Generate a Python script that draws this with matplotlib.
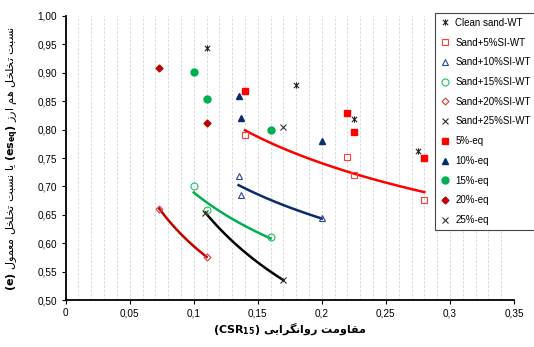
import matplotlib
matplotlib.use("Agg")
import numpy as np
import matplotlib.pyplot as plt
from matplotlib.path import Path
from matplotlib.ticker import MultipleLocator, FuncFormatter

# void ratio vs. liquefaction resistance, WT tests and equivalent values
clean_wt_x = [0.110, 0.180, 0.225, 0.275]
clean_wt_y = [0.943, 0.878, 0.819, 0.763]
si5_wt_x = [0.140, 0.220, 0.225, 0.280]
si5_wt_y = [0.790, 0.752, 0.720, 0.676]
si10_wt_x = [0.135, 0.137, 0.200]
si10_wt_y = [0.718, 0.684, 0.644]
si15_wt_x = [0.100, 0.110, 0.160]
si15_wt_y = [0.701, 0.658, 0.611]
si20_wt_x = [0.073, 0.110]
si20_wt_y = [0.661, 0.576]
si25_wt_x = [0.109, 0.170]
si25_wt_y = [0.654, 0.535]

eq5_x = [0.140, 0.220, 0.225, 0.280]
eq5_y = [0.868, 0.829, 0.796, 0.750]
eq10_x = [0.135, 0.137, 0.200]
eq10_y = [0.859, 0.821, 0.780]
eq15_x = [0.100, 0.110, 0.160]
eq15_y = [0.901, 0.853, 0.799]
eq20_x = [0.073, 0.110]
eq20_y = [0.908, 0.811]
eq25_x = [0.170]
eq25_y = [0.805]

x_ticks = [0, 0.05, 0.1, 0.15, 0.2, 0.25, 0.3, 0.35]
y_ticks = [0.50, 0.55, 0.60, 0.65, 0.70, 0.75, 0.80, 0.85, 0.90, 0.95, 1.00]

# contextual forms (isolated, final, initial, medial) for the persian letters used
FORMS = {
    "ا": ("\uFE8D", "\uFE8E", None, None),
    "ب": ("\uFE8F", "\uFE90", "\uFE91", "\uFE92"),
    "ت": ("\uFE95", "\uFE96", "\uFE97", "\uFE98"),
    "خ": ("\uFEA5", "\uFEA6", "\uFEA7", "\uFEA8"),
    "ر": ("\uFEAD", "\uFEAE", None, None),
    "ز": ("\uFEAF", "\uFEB0", None, None),
    "س": ("\uFEB1", "\uFEB2", "\uFEB3", "\uFEB4"),
    "ع": ("\uFEC9", "\uFECA", "\uFECB", "\uFECC"),
    "ق": ("\uFED5", "\uFED6", "\uFED7", "\uFED8"),
    "ل": ("\uFEDD", "\uFEDE", "\uFEDF", "\uFEE0"),
    "م": ("\uFEE1", "\uFEE2", "\uFEE3", "\uFEE4"),
    "ن": ("\uFEE5", "\uFEE6", "\uFEE7", "\uFEE8"),
    "ه": ("\uFEE9", "\uFEEA", "\uFEEB", "\uFEEC"),
    "و": ("\uFEED", "\uFEEE", None, None),
    "ی": ("\uFBFC", "\uFBFD", "\uFBFE", "\uFBFF"),
    "گ": ("\uFB92", "\uFB93", "\uFB94", "\uFB95"),
}
RIGHT_ONLY = set("ارزو")


def shape_fa(text):
    out = []
    for i, c in enumerate(text):
        if c not in FORMS:
            out.append(c)
            continue
        prev = text[i - 1] if i > 0 else ""
        nxt = text[i + 1] if i + 1 < len(text) else ""
        jp = prev in FORMS and prev not in RIGHT_ONLY
        jn = nxt in FORMS and c not in RIGHT_ONLY
        iso, fin, ini, med = FORMS[c]
        if jp and jn:
            out.append(med)
        elif jp:
            out.append(fin)
        elif jn:
            out.append(ini)
        else:
            out.append(iso)
    return "".join(reversed(out))


def power_fit(xs, ys):
    b, ln_a = np.polyfit(np.log(xs), np.log(ys), 1)
    xx = np.linspace(min(xs), max(xs), 60)
    return xx, np.exp(ln_a) * xx ** b


star = Path([(-1, -1), (1, 1), (-1, 1), (1, -1), (0, -1.2), (0, 1.2)],
            [Path.MOVETO, Path.LINETO, Path.MOVETO, Path.LINETO, Path.MOVETO, Path.LINETO])

plt.rcParams["font.family"] = ["Liberation Sans", "DejaVu Sans"]
fig = plt.figure(figsize=(5.34, 3.47), dpi=100)
ax = fig.add_axes([0.123, 0.1354, 0.8395, 0.8185])

# trend lines
for xs, ys, col in [(si5_wt_x, si5_wt_y, "#ff0000"), (si10_wt_x, si10_wt_y, "#0c2a6e"),
                    (si15_wt_x, si15_wt_y, "#00b050"), (si20_wt_x, si20_wt_y, "#c00000"),
                    (si25_wt_x, si25_wt_y, "#000000")]:
    fx, fy = power_fit(xs, ys)
    ax.plot(fx, fy, color=col, lw=1.8, zorder=2)

ax.plot(clean_wt_x, clean_wt_y, ls="none", marker=star, ms=4.5, mec="#222222", mew=0.8, label="Clean sand-WT", zorder=3)
ax.plot(si5_wt_x, si5_wt_y, ls="none", marker="s", ms=5, mfc="none", mec="#ff3b3b", mew=0.8, label="Sand+5%SI-WT", zorder=3)
ax.plot(si10_wt_x, si10_wt_y, ls="none", marker="^", ms=5, mfc="none", mec="#2a4a90", mew=0.8, label="Sand+10%SI-WT", zorder=3)
ax.plot(si15_wt_x, si15_wt_y, ls="none", marker="o", ms=5, mfc="none", mec="#22c060", mew=0.8, label="Sand+15%SI-WT", zorder=3)
ax.plot(si20_wt_x, si20_wt_y, ls="none", marker="D", ms=3.5, mfc="none", mec="#e03a3a", mew=0.8, label="Sand+20%SI-WT", zorder=3)
ax.plot(si25_wt_x, si25_wt_y, ls="none", marker="x", ms=4, mec="#3a2a20", mew=0.8, label="Sand+25%SI-WT", zorder=3)
ax.plot(eq5_x, eq5_y, ls="none", marker="s", ms=4.5, mfc="#ff0000", mec="#ff0000", label="5%-eq", zorder=3)
ax.plot(eq10_x, eq10_y, ls="none", marker="^", ms=5, mfc="#0c2a6e", mec="#0c2a6e", label="10%-eq", zorder=3)
ax.plot(eq15_x, eq15_y, ls="none", marker="o", ms=5, mfc="#00b050", mec="#00b050", label="15%-eq", zorder=3)
ax.plot(eq20_x, eq20_y, ls="none", marker="D", ms=3.5, mfc="#c00000", mec="#c00000", label="20%-eq", zorder=3)
ax.plot(eq25_x, eq25_y, ls="none", marker="x", ms=4, mec="#333333", mew=0.8, label="25%-eq", zorder=3)

ax.set_xlim(0, 0.35)
ax.set_ylim(0.5, 1.0)
ax.set_xticks(x_ticks)
ax.set_yticks(y_ticks)
ax.xaxis.set_minor_locator(MultipleLocator(0.01))
ax.xaxis.set_major_formatter(FuncFormatter(lambda v, p: f"{v:g}".replace(".", ",")))
ax.yaxis.set_major_formatter(FuncFormatter(lambda v, p: f"{v:.2f}".replace(".", ",")))
ax.grid(True, which="both", axis="x", color="#d4d4d4", ls=(0, (3, 2)), lw=0.6)
ax.set_axisbelow(True)
ax.tick_params(axis="both", which="major", direction="out", length=3, width=0.8,
               labelsize=7.2, colors="black", pad=3)
ax.tick_params(axis="x", which="minor", length=0)
for s in ["top", "right"]:
    ax.spines[s].set_visible(False)
for s in ["left", "bottom"]:
    ax.spines[s].set_linewidth(1.3)

ax.set_xlabel(r"$\mathbf{(CSR}_{\mathbf{15}}\mathbf{)}$ " + shape_fa("مقاومت روانگرایی"),
              family="DejaVu Sans", fontsize=8, fontweight="bold", labelpad=2)
ylab = (r"$\mathbf{(e)}$ " + shape_fa("یا نسبت تخلخل معمول")
        + r" $\mathbf{(es}_{\mathbf{eq}}\mathbf{)}$ " + shape_fa("نسبت تخلخل هم ارز"))
ax.set_ylabel(ylab, family="DejaVu Sans", fontsize=8, labelpad=13)

leg = fig.legend(loc="upper left", bbox_to_anchor=(0.8146, 0.9625), fontsize=7,
                 frameon=True, fancybox=False, edgecolor="#444444", framealpha=1,
                 handlelength=1.0, handletextpad=0.6, labelspacing=1.0,
                 borderpad=0.5, borderaxespad=0)
leg.get_frame().set_linewidth(0.8)

fig.savefig("out.png", dpi=100)
